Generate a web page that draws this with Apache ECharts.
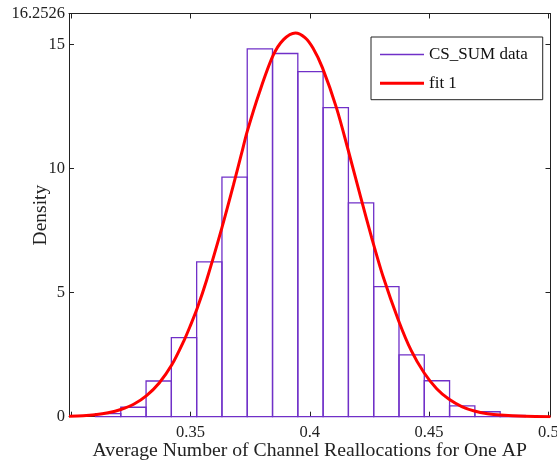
<!DOCTYPE html>
<html>
<head>
<meta charset="utf-8">
<script src="https://cdn.jsdelivr.net/npm/echarts@6/dist/echarts.min.js"></script>
<style>html,body{margin:0;padding:0;background:#fff;}#c{width:557px;height:462px;}</style>
</head>
<body>
<div id="c"></div>
<script>
// Histogram bin edges and densities (CS_SUM data)
const binEdges = [0.3102, 0.3208, 0.3314, 0.3420, 0.3526, 0.3632, 0.3738, 0.3844, 0.3950,
                  0.4056, 0.4162, 0.4268, 0.4374, 0.4480, 0.4586, 0.4692, 0.4798, 0.4904];
const densities = [0.12, 0.38, 1.44, 3.19, 6.24, 9.66, 14.83, 14.64, 13.91,
                   12.46, 8.62, 5.24, 2.49, 1.45, 0.44, 0.20, 0.05];
// Fit curve points (fit 1)
const fitX = [0.2991, 0.305, 0.31, 0.3155, 0.3208, 0.3262, 0.3316, 0.3369, 0.3422, 0.3472,
              0.35, 0.3528, 0.3567, 0.3632, 0.368, 0.3714, 0.3738, 0.379, 0.3846, 0.389,
              0.394, 0.398, 0.4014, 0.4053, 0.4112, 0.4161, 0.4214, 0.426, 0.4307, 0.4372,
              0.4425, 0.4479, 0.4532, 0.4584, 0.4637, 0.469, 0.4745, 0.4798, 0.4904, 0.5009];
const fitY = [0.02, 0.04, 0.08, 0.16, 0.29, 0.50, 0.85, 1.36, 2.09, 3.05,
              3.68, 4.36, 5.48, 7.62, 9.33, 10.6, 11.5, 13.1, 14.55, 15.2,
              15.47, 15.28, 14.85, 14.07, 12.45, 10.75, 8.83, 7.2, 5.66, 3.88,
              2.67, 1.77, 1.13, 0.70, 0.41, 0.23, 0.12, 0.064, 0.015, 0.003];
const xTicks = [0.3, 0.35, 0.4, 0.45, 0.5];
const xTickLabels = [0.35, 0.4, 0.45, 0.5];
const yTicks = [0, 5, 10, 15];
const yTickLabels = [0, 5, 10, 15, 16.2526];
const xRange = [0.2991, 0.5009];
const yRange = [0, 16.2526];

const FONT = 'Liberation Serif';
const AX = '#222';
const PURPLE = '#7030C8';
const RED = '#FF0000';

const histData = densities.map((d, i) => [binEdges[i], binEdges[i + 1], d]);
const fitData = fitX.map((x, i) => [x, fitY[i]]);

const chart = echarts.init(document.getElementById('c'), null, {renderer: 'canvas'});
chart.setOption({
  animation: false,
  backgroundColor: '#fff',
  grid: {left: 69, top: 13.5, width: 481.5, height: 403.2, containLabel: false, outerBoundsMode: 'none'},
  xAxis: [{
    type: 'value', min: xRange[0], max: xRange[1], position: 'bottom',
    name: 'Average Number of Channel Reallocations for One AP',
    nameLocation: 'middle', nameGap: 24, nameMoveOverlap: false,
    nameTextStyle: {fontFamily: FONT, fontSize: 19.7, color: AX},
    axisLine: {show: true, onZero: false, lineStyle: {color: AX, width: 1}},
    axisTick: {show: true, inside: true, length: 5, customValues: xTicks, lineStyle: {color: AX}},
    axisLabel: {show: true, customValues: xTickLabels, margin: 7, fontFamily: FONT, fontSize: 16.5, color: AX,
      hideOverlap: false, formatter: v => String(+(+v).toFixed(4))},
    splitLine: {show: false}
  }, {
    type: 'value', min: xRange[0], max: xRange[1], position: 'top',
    axisLine: {show: true, onZero: false, lineStyle: {color: AX, width: 1}},
    axisTick: {show: true, inside: true, length: 5, customValues: xTicks, lineStyle: {color: AX}},
    axisLabel: {show: false},
    splitLine: {show: false}
  }],
  yAxis: [{
    type: 'value', min: yRange[0], max: yRange[1], position: 'left',
    name: 'Density', nameLocation: 'middle', nameGap: 18, nameRotate: 90, nameMoveOverlap: false,
    nameTextStyle: {fontFamily: FONT, fontSize: 19.5, color: AX},
    axisLine: {show: true, onZero: false, lineStyle: {color: AX, width: 1}},
    axisTick: {show: true, inside: true, length: 5, customValues: yTicks, lineStyle: {color: AX}},
    axisLabel: {show: true, customValues: yTickLabels, margin: 4, fontFamily: FONT, fontSize: 16.5, color: AX,
      hideOverlap: false, formatter: v => String(+(+v).toFixed(4))},
    splitLine: {show: false}
  }, {
    type: 'value', min: yRange[0], max: yRange[1], position: 'right',
    axisLine: {show: true, onZero: false, lineStyle: {color: AX, width: 1}},
    axisTick: {show: true, inside: true, length: 5, customValues: yTicks, lineStyle: {color: AX}},
    axisLabel: {show: false},
    splitLine: {show: false}
  }],
  legend: {
    orient: 'vertical', left: 371, top: 37, padding: [9, 15, 8, 9],
    itemWidth: 44, itemHeight: 14, itemGap: 11.7,
    borderColor: AX, borderWidth: 1, backgroundColor: '#fff',
    textStyle: {fontFamily: FONT, fontSize: 17, color: '#111'},
    itemStyle: {borderWidth: 0},
    data: [
      {name: 'CS_SUM data', icon: 'path://M0,0H44V1.3H0Z', itemStyle: {color: PURPLE}},
      {name: 'fit 1', icon: 'path://M0,0H44V3H0Z', itemStyle: {color: RED}}
    ]
  },
  series: [{
    name: 'CS_SUM data', type: 'custom',
    xAxisIndex: 0, yAxisIndex: 0,
    itemStyle: {color: PURPLE},
    encode: {x: [0, 1], y: 2},
    data: histData,
    renderItem: function (params, api) {
      const p0 = api.coord([api.value(0), api.value(2)]);
      const p1 = api.coord([api.value(1), 0]);
      return {
        type: 'rect',
        shape: {x: p0[0], y: p0[1], width: p1[0] - p0[0], height: p1[1] - p0[1]},
        style: {fill: 'none', stroke: PURPLE, lineWidth: 1.3}
      };
    },
    z: 2
  }, {
    name: 'fit 1', type: 'line',
    xAxisIndex: 0, yAxisIndex: 0,
    color: RED,
    showSymbol: false, symbol: 'none', smooth: 0.3,
    lineStyle: {color: RED, width: 3},
    data: fitData,
    z: 3
  }]
});
</script>
</body>
</html>
